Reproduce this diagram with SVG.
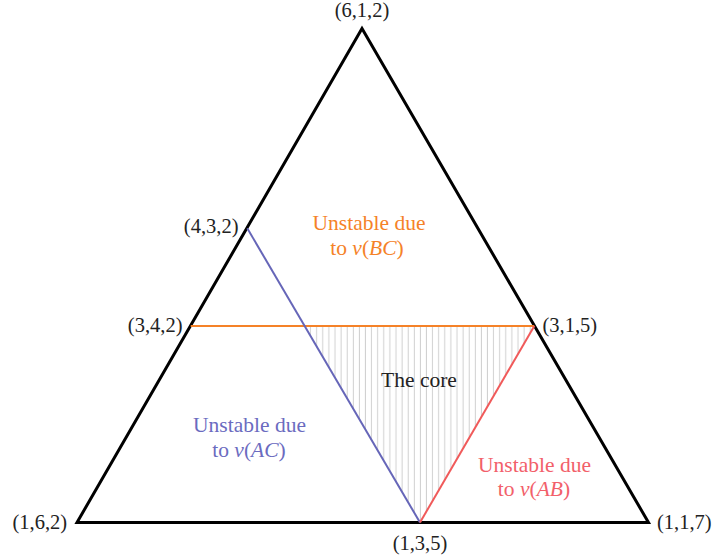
<svg xmlns="http://www.w3.org/2000/svg" width="713" height="557" viewBox="0 0 713 557">
  <style>
    text { font-family: "Liberation Serif", "Times New Roman", serif; font-size: 20.5px; fill: #222; }
    .lbl { font-size: 21.5px; }
    .mid { text-anchor: middle; }
    .end { text-anchor: end; }
    .it { font-style: italic; }
    .orange { fill: #f58228; }
    .blue { fill: #6b6bbf; }
    .red { fill: #f2606a; }
  </style>
  <defs>
    <pattern id="hatch" patternUnits="userSpaceOnUse" x="313.7" y="0" width="6.1" height="10">
      <line x1="3" y1="0" x2="3" y2="10" stroke="#cfcfcf" stroke-width="1"/>
    </pattern>
  </defs>

  <g id="core-region">
    <polygon points="304.6,326 534.3,326 420,522.5" fill="url(#hatch)"/>
  </g>

  <g id="triangle">
    <polygon points="362,28.5 77,522.5 648.5,522.5" fill="none" stroke="#000" stroke-width="3" stroke-linejoin="miter"/>
  </g>

  <g id="connectors" fill="none" stroke-width="2">
    <line id="line-bc" x1="190.7" y1="326" x2="534.3" y2="326" stroke="#f58228"/>
    <line id="line-ac" x1="247.3" y1="228.3" x2="420" y2="522.5" stroke="#6666b8"/>
    <line id="line-ab" x1="534.3" y1="326" x2="420" y2="522.5" stroke="#f05a5a"/>
  </g>

  <g id="v612"><text class="mid" x="362" y="17">(6,1,2)</text></g>
  <g id="v432"><text class="end" x="238.5" y="233">(4,3,2)</text></g>
  <g id="v342"><text class="end" x="182.5" y="332">(3,4,2)</text></g>
  <g id="v315"><text x="542.5" y="332">(3,1,5)</text></g>
  <g id="v135"><text class="mid" x="420" y="550">(1,3,5)</text></g>
  <g id="v162"><text x="12.5" y="529">(1,6,2)</text></g>
  <g id="v117"><text x="657" y="529">(1,1,7)</text></g>

  <g id="label-bc">
    <text class="lbl mid orange" x="369" y="230">Unstable due</text>
    <text class="lbl mid orange" x="367" y="255">to <tspan class="it">v</tspan>(<tspan class="it">BC</tspan>)</text>
  </g>
  <g id="label-ac">
    <text class="lbl mid blue" x="249.5" y="432">Unstable due</text>
    <text class="lbl mid blue" x="249" y="457">to <tspan class="it">v</tspan>(<tspan class="it">AC</tspan>)</text>
  </g>
  <g id="label-ab">
    <text class="lbl mid red" x="534.5" y="472">Unstable due</text>
    <text class="lbl mid red" x="534" y="496">to <tspan class="it">v</tspan>(<tspan class="it">AB</tspan>)</text>
  </g>
  <g id="label-core">
    <text class="lbl mid" x="419" y="387">The core</text>
  </g>
</svg>
